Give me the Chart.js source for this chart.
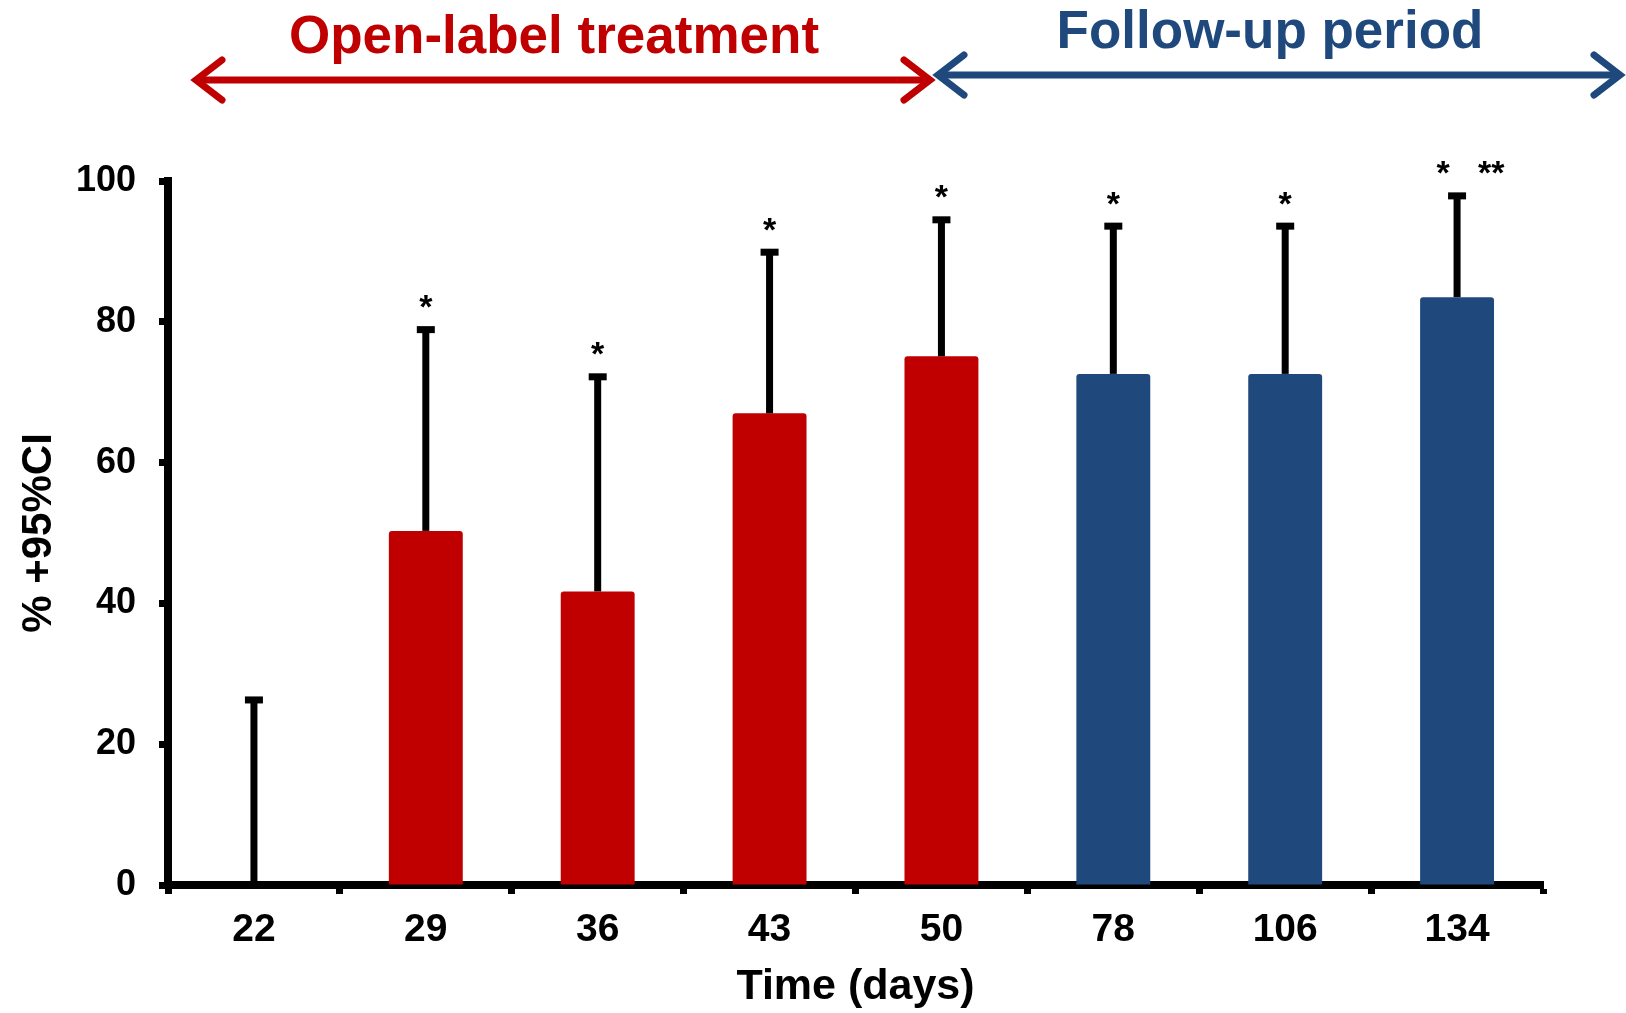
<!DOCTYPE html>
<html><head><meta charset="utf-8">
<script src="https://cdn.jsdelivr.net/npm/chart.js@4.4.1/dist/chart.umd.min.js"></script>
<style>html,body{margin:0;padding:0;background:#fff;}#wrap{width:1626px;height:1013px;position:relative;}</style>
</head><body><div id="wrap"><canvas id="c" width="1626" height="1013"></canvas></div>
<script>
const categories = ["22", "29", "36", "43", "50", "78", "106", "134"];
const meanValues = [0, 50.3, 41.7, 67.0, 75.1, 72.6, 72.6, 83.5];
const ciUpper = [26.5, 79.1, 72.4, 90.1, 94.7, 93.8, 93.8, 98.1];
const significance = ["", "*", "*", "*", "*", "*", "*", "*   **"];
const phaseOf = ["treatment", "treatment", "treatment", "treatment", "treatment", "follow-up", "follow-up", "follow-up"];
const yTickValues = [0, 20, 40, 60, 80, 100];
const phaseTitles = ["Open-label treatment", "Follow-up period"];

const RED = "#C00000", BLUE = "#1F497D";
const FONT = "'Liberation Sans', Arial, sans-serif";
const barColors = phaseOf.map(p => p === "treatment" ? RED : BLUE);

const errorBarPlugin = {
  id: "errorBars",
  afterDatasetsDraw(chart) {
    const ctx = chart.ctx, xs = chart.scales.x, ys = chart.scales.y;
    ctx.save();
    ctx.fillStyle = "#000";
    for (let i = 0; i < categories.length; i++) {
      const x = xs.getPixelForValue(i);
      const yTop = ys.getPixelForValue(ciUpper[i]);
      const yBase = ys.getPixelForValue(meanValues[i]);
      ctx.fillRect(x - 3.5, yTop, 7, yBase - yTop);
      ctx.fillRect(x - 9, yTop - 2, 18, 7);
      if (significance[i]) {
        ctx.font = "bold 34px " + FONT;
        ctx.textBaseline = "alphabetic";
        const sw = ctx.measureText("*").width;
        ctx.textAlign = "left";
        ctx.fillText(significance[i], x - sw / 2 - (significance[i].length > 1 ? 14 : 0), yTop - 10);
      }
    }
    ctx.restore();
  }
};

function drawArrow(ctx, x1, x2, y, color) {
  ctx.save();
  ctx.strokeStyle = color;
  ctx.lineWidth = 7;
  ctx.lineCap = "round";
  ctx.lineJoin = "miter";
  ctx.beginPath();
  ctx.moveTo(x1 + 4, y); ctx.lineTo(x2 - 4, y);
  ctx.stroke();
  const L = 26, H = 20;
  ctx.beginPath();
  ctx.moveTo(x1 + L, y - H); ctx.lineTo(x1, y); ctx.lineTo(x1 + L, y + H);
  ctx.stroke();
  ctx.beginPath();
  ctx.moveTo(x2 - L, y - H); ctx.lineTo(x2, y); ctx.lineTo(x2 - L, y + H);
  ctx.stroke();
  ctx.restore();
}

const phasePlugin = {
  id: "phases",
  afterDraw(chart) {
    const ctx = chart.ctx;
    ctx.save();
    drawArrow(ctx, 196, 930, 80, RED);
    drawArrow(ctx, 938, 1620, 75, BLUE);
    ctx.font = "bold 53px " + FONT;
    ctx.textAlign = "center";
    ctx.textBaseline = "alphabetic";
    ctx.fillStyle = RED;
    ctx.fillText(phaseTitles[0], 554, 53);
    ctx.fillStyle = BLUE;
    ctx.fillText(phaseTitles[1], 1270, 48);
    ctx.restore();
  }
};

new Chart(document.getElementById("c"), {
  type: "bar",
  data: {
    labels: categories,
    datasets: [{
      data: meanValues,
      backgroundColor: barColors,
      borderWidth: 0,
      borderRadius: { topLeft: 3, topRight: 3 },
      borderSkipped: "bottom",
      barPercentage: 0.43,
      categoryPercentage: 1.0
    }]
  },
  options: {
    responsive: false,
    animation: false,
    devicePixelRatio: 1,
    layout: { padding: { top: 181, right: 83, left: 10, bottom: 0 } },
    plugins: { legend: { display: false }, tooltip: { enabled: false } },
    scales: {
      x: {
        afterFit(s) { s.height = 128; },
        grid: { offset: true, drawOnChartArea: false, drawTicks: true, tickLength: 9, tickWidth: 7, tickColor: "#000" },
        border: { display: true, color: "#000", width: 8 },
        ticks: { color: "#000", font: { family: FONT, size: 39, weight: "bold" }, padding: 13 },
        title: { display: true, text: "Time (days)", color: "#000", font: { family: FONT, size: 43, weight: "bold" }, padding: { top: 0, bottom: 0 } }
      },
      y: {
        min: 0, max: 100,
        afterFit(s) { s.width = 158; },
        afterBuildTicks(s) { s.ticks = yTickValues.map(v => ({ value: v })); },
        grid: { drawOnChartArea: false, drawTicks: true, tickLength: 9, tickWidth: 7, tickColor: "#000" },
        border: { display: true, color: "#000", width: 8 },
        ticks: { color: "#000", font: { family: FONT, size: 36, weight: "bold" }, padding: 23 },
        title: { display: true, text: "% +95%CI", color: "#000", font: { family: FONT, size: 42, weight: "bold" }, padding: { top: 4, bottom: 0 } }
      }
    }
  },
  plugins: [errorBarPlugin, phasePlugin]
});
</script></body></html>
